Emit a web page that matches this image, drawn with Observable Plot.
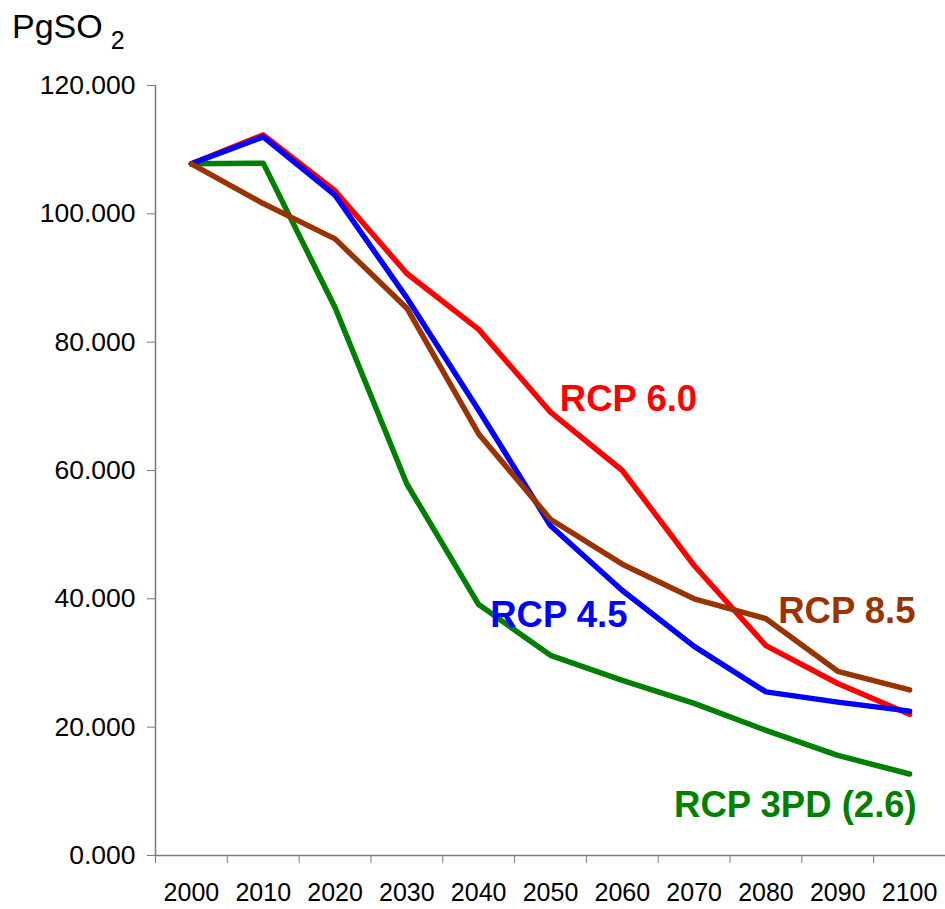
<!DOCTYPE html>
<html>
<head>
<meta charset="utf-8">
<script src="https://cdn.jsdelivr.net/npm/d3@7"></script>
<script src="https://cdn.jsdelivr.net/npm/@observablehq/plot@0.6"></script>
<style>
  body { margin: 0; background: white; font-family: "Liberation Sans", Arial, sans-serif; }
  #title { position: relative; height: 60px; width: 945px; }
  #title .t { position: absolute; left: 12px; top: 9px; font-size: 34px; line-height: 34px; color: black; white-space: nowrap; }
  #title .s { font-size: 25px; position: relative; top: 11px; margin-left: 8px; }
</style>
</head>
<body>
<div id="title"><span class="t">PgSO<span class="s">2</span></span></div>
<div id="chart"></div>
<script>
const years = [2000, 2010, 2020, 2030, 2040, 2050, 2060, 2070, 2080, 2090, 2100];
const yTicks = [0, 20, 40, 60, 80, 100, 120];

const rcp26 = [107.8, 107.9, 85.4, 57.9, 39.1, 31.2, 27.3, 23.7, 19.5, 15.6, 12.7];
const rcp45 = [107.8, 112.0, 102.9, 86.9, 69.4, 51.4, 41.3, 32.6, 25.5, 23.9, 22.5];
const rcp60 = [107.8, 112.3, 103.6, 90.7, 82.0, 69.1, 60.0, 45.2, 32.7, 26.8, 22.0];
const rcp85 = [107.8, 101.6, 96.1, 85.3, 65.7, 52.4, 45.4, 40.0, 36.9, 28.7, 25.8];

const seriesNames = ["RCP 3PD (2.6)", "RCP 6.0", "RCP 4.5", "RCP 8.5"];
const seriesValues = [rcp26, rcp60, rcp45, rcp85];
const seriesColors = ["#008000", "#ff0000", "#0000ff", "#993300"];

// label anchor positions (year-axis, value-axis)
const labelText = ["RCP 6.0", "RCP 4.5", "RCP 8.5", "RCP 3PD (2.6)"];
const labelYear = [2051.3, 2041.6, 2081.7, 2067.2];
const labelValue = [71.1, 37.5, 38.0, 7.75];
const labelColor = ["#ff0000", "#0000ff", "#993300", "#008000"];

const half = (years[1] - years[0]) / 2;
const xDomain = [years[0] - half, years[years.length - 1] + half];
const boundaries = years.map(y => y - half);

const labels = labelText.map((t, i) => ({text: t, year: labelYear[i], value: labelValue[i], color: labelColor[i]}));

const axisColor = "#7a7a7a";
const font = "'Liberation Sans', Arial, sans-serif";

const lineMarks = seriesNames.map((name, s) =>
  Plot.line(years.map((yr, i) => ({year: yr, value: seriesValues[s][i]})), {
    x: "year", y: "value", stroke: seriesColors[s], strokeWidth: 5.5,
    strokeLinejoin: "round", strokeLinecap: "round"
  })
);

const chart = Plot.plot({
  width: 945,
  height: 849,
  marginTop: 25,
  marginLeft: 155,
  marginRight: 0,
  marginBottom: 54,
  style: {fontFamily: font, background: "white", color: "black", overflow: "visible"},
  x: {domain: xDomain, axis: null},
  y: {domain: [yTicks[0], yTicks[yTicks.length - 1]], axis: null},
  marks: [
    Plot.axisY({ticks: yTicks, tickFormat: d3.format(".3f"), tickSize: 8, tickPadding: 12,
      fontSize: 26.5, stroke: axisColor, fill: "black", label: null}),
    Plot.axisX({ticks: boundaries, tickSize: 8, tickFormat: () => "", stroke: axisColor, label: null}),
    Plot.axisX({ticks: years, tickSize: 0, tickPadding: 28, tickFormat: d => String(d),
      fontSize: 25, fill: "black", label: null}),
    Plot.ruleX([xDomain[0]], {stroke: axisColor, strokeWidth: 1.5}),
    Plot.ruleY([yTicks[0]], {stroke: axisColor, strokeWidth: 1.5}),
    ...lineMarks,
    Plot.text(labels, {x: "year", y: "value", text: "text", fill: "color", textAnchor: "start",
      fontWeight: "bold", fontSize: 36.5})
  ]
});
document.getElementById("chart").appendChild(chart);
</script>
</body>
</html>
